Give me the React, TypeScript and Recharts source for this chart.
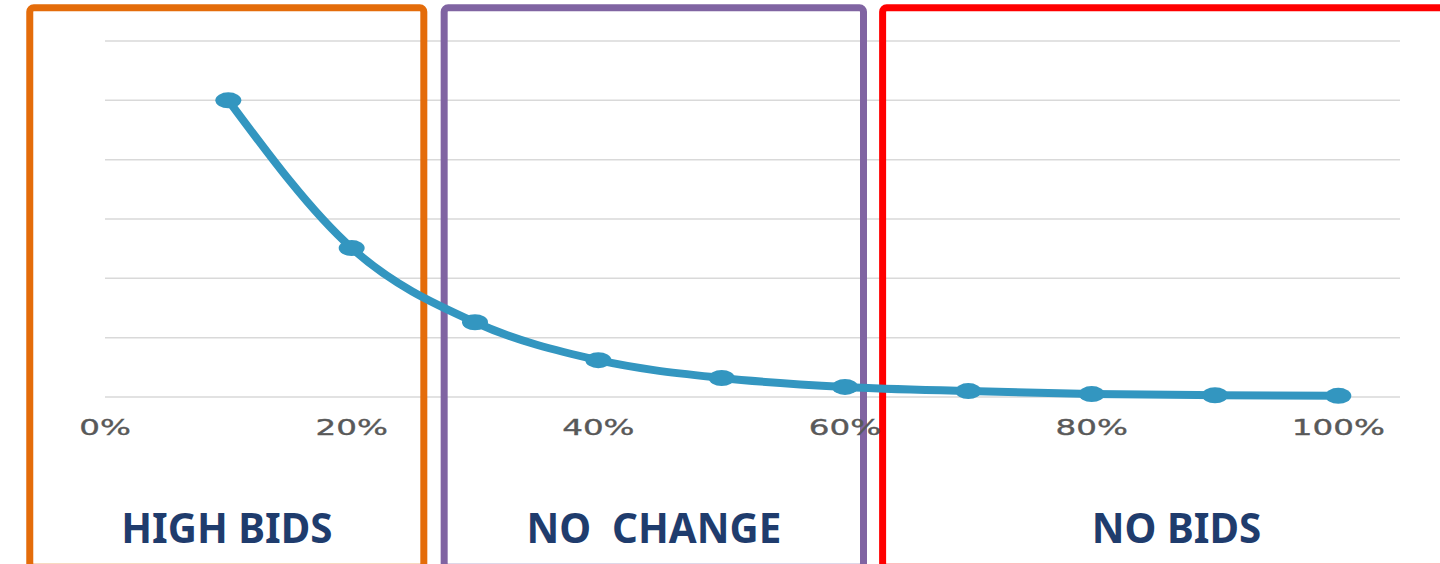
import {
  LineChart, Line, XAxis, YAxis, CartesianGrid, ReferenceArea, ReferenceDot,
} from 'recharts';

// share of bids (x, %) and relative value (y)
const xPercent = [10, 20, 30, 40, 50, 60, 70, 80, 90, 100];
const yValues = [5.0, 2.51, 1.26, 0.62, 0.32, 0.17, 0.1, 0.05, 0.03, 0.02];

const xTicks = [0, 20, 40, 60, 80, 100];
const yTicks = [0, 1, 2, 3, 4, 5, 6];

// zone boxes, in x-axis units (%)
const zoneLabels = ['HIGH BIDS', 'NO  CHANGE', 'NO BIDS'];
const zoneFrom = [-6.1, 27.5, 63.05];
const zoneTo = [25.85, 61.5, 110.7];
const zoneColors = ['#e46c0a', '#8064a2', '#ff0000'];

const data = xPercent.map((x, i) => ({ x, y: yValues[i] }));

const BOX_TOP = 6.56;
const BOX_BOTTOM = -2.87;
const LABEL_Y = -2.2;

function PctTick({ x, y, payload }: any) {
  return (
    <g transform={`translate(${x},${y})`}>
      <text
        y={38}
        textAnchor="middle"
        transform="scale(1.55,1)"
        fontFamily="DejaVu Sans"
        fontSize={21}
        fill="#595959"
        stroke="#595959"
        strokeWidth={0.35}
      >
        {payload.value}%
      </text>
    </g>
  );
}

function Dot({ cx, cy }: any) {
  return <ellipse cx={cx} cy={cy} rx={13} ry={8} fill="#3396c0" />;
}

export default function App() {
  return (
    <div style={{ position: 'absolute', left: 0, top: 0, width: 1440, height: 564, background: '#fff' }}>
      <LineChart
        width={1440}
        height={564}
        data={data}
        margin={{ top: 41, right: 40, left: 105, bottom: 0 }}
      >
        <CartesianGrid vertical={false} stroke="#d9d9d9" strokeWidth={1.5} />
        <XAxis
          type="number"
          dataKey="x"
          domain={[0, 105]}
          ticks={xTicks}
          height={167}
          axisLine={false}
          tickLine={false}
          tickSize={0}
          tickMargin={0}
          tick={<PctTick />}
          interval={0}
        />
        <YAxis hide domain={[0, 6]} ticks={yTicks} />
        <Line
          type="monotone"
          dataKey="y"
          stroke="#3396c0"
          strokeWidth={8}
          dot={<Dot />}
          activeDot={false}
          isAnimationActive={false}
        />
        {zoneLabels.map((label, i) => (
          <ReferenceArea
            key={label}
            x1={zoneFrom[i]}
            x2={zoneTo[i]}
            y1={BOX_BOTTOM}
            y2={BOX_TOP}
            ifOverflow="visible"
            fill="none"
            fillOpacity={0}
            stroke={zoneColors[i]}
            strokeWidth={7}
            radius={4}
          />
        ))}
        {zoneLabels.map((label, i) => (
          <ReferenceDot
            key={`l-${label}`}
            x={(zoneFrom[i] + zoneTo[i]) / 2}
            y={LABEL_Y}
            ifOverflow="visible"
            shape={(p: any) => (
              <g transform={`translate(${p.cx},${p.cy + 15})`}>
                <text
                  textAnchor="middle"
                  transform="scale(0.96,1)"
                  fontFamily="Noto Sans"
                  fontWeight={700}
                  fontSize={42}
                  fill="#1f3c6d"
                  style={{ whiteSpace: 'pre' }}
                >
                  {label}
                </text>
              </g>
            )}
          />
        ))}
      </LineChart>
    </div>
  );
}
